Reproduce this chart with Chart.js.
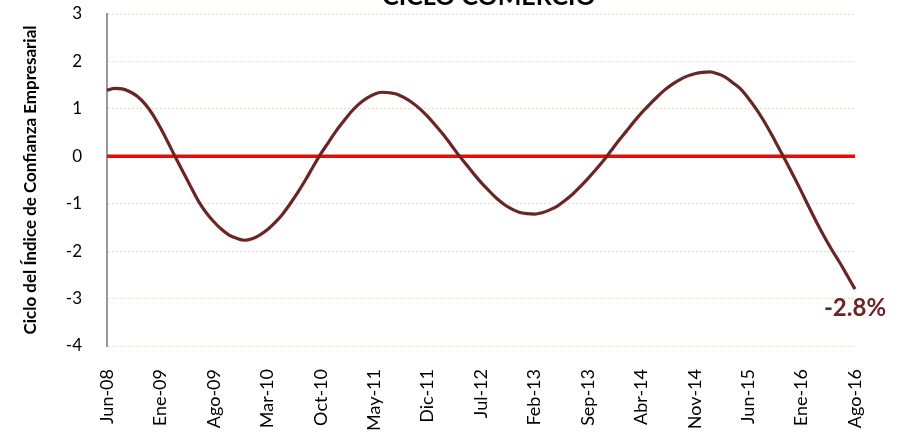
<!DOCTYPE html>
<html lang="es">
<head>
    <meta charset="UTF-8">
    <title>Ciclo Comercio</title>
    <script src="https://cdn.jsdelivr.net/npm/chart.js"></script>
    <style>
        html, body { margin: 0; padding: 0; background: #fff; }
        #wrap { width: 902px; height: 439px; }
    </style>
</head>
<body>
    <div id="wrap"><canvas id="cicloChart" width="902" height="439"></canvas></div>

    <script>
        // Meses Jun-08 .. Ago-16
        const meses = ['Ene', 'Feb', 'Mar', 'Abr', 'May', 'Jun', 'Jul', 'Ago', 'Sep', 'Oct', 'Nov', 'Dic'];
        const categorias = [];
        for (let a = 2008, m = 5; a < 2016 || (a === 2016 && m <= 7); m++) {
            if (m === 12) { m = 0; a++; }
            categorias.push(meses[m] + '-' + String(a).slice(2));
        }

        // Ciclo del índice de confianza empresarial (comercio)
        const ciclo = [
            1.39, 1.43, 1.42, 1.36, 1.26, 1.10, 0.88, 0.60, 0.29, -0.03,
            -0.34, -0.65, -0.95, -1.19, -1.38, -1.54, -1.66, -1.73, -1.77, -1.74,
            -1.66, -1.55, -1.40, -1.22, -1.00, -0.76, -0.50, -0.22, 0.05, 0.29,
            0.53, 0.74, 0.94, 1.10, 1.22, 1.31, 1.35, 1.34, 1.31, 1.23,
            1.13, 1.00, 0.84, 0.66, 0.47, 0.26, 0.04, -0.16, -0.36, -0.55,
            -0.72, -0.88, -1.01, -1.11, -1.18, -1.21, -1.22, -1.19, -1.13, -1.05,
            -0.93, -0.80, -0.64, -0.47, -0.29, -0.10, 0.11, 0.32, 0.52, 0.72,
            0.91, 1.08, 1.24, 1.39, 1.51, 1.61, 1.69, 1.74, 1.77, 1.78,
            1.74, 1.67, 1.55, 1.42, 1.23, 1.01, 0.76, 0.48, 0.18, -0.12,
            -0.43, -0.75, -1.08, -1.40, -1.70, -1.98, -2.24, -2.52, -2.80
        ];
        const lineaCero = categorias.map(() => 0);

        const ultimoValor = ciclo[ciclo.length - 1];

        const tituloPlugin = {
            id: 'tituloCortado',
            afterDraw(chart) {
                const ctx = chart.ctx;
                ctx.save();
                ctx.font = 'bold 25px Lato';
                ctx.fillStyle = '#000';
                ctx.textAlign = 'center';
                ctx.textBaseline = 'bottom';
                ctx.fillText('CICLO COMERCIO', 489, 9);
                ctx.restore();
            }
        };

        const etiquetaFinal = {
            id: 'etiquetaFinal',
            afterDatasetsDraw(chart) {
                const meta = chart.getDatasetMeta(1);
                const p = meta.data[meta.data.length - 1];
                const ctx = chart.ctx;
                ctx.save();
                ctx.font = 'bold 24px Lato';
                ctx.fillStyle = '#6b2525';
                ctx.textAlign = 'center';
                ctx.textBaseline = 'top';
                ctx.fillText(ultimoValor.toFixed(1) + '%', p.x, p.y + 7);
                ctx.restore();
            }
        };

        new Chart(document.getElementById('cicloChart'), {
            type: 'line',
            data: {
                labels: categorias,
                datasets: [{
                    data: lineaCero,
                    borderColor: '#ff0000',
                    borderWidth: 3.5,
                    pointRadius: 0,
                    order: 2
                }, {
                    data: ciclo,
                    borderColor: '#6b2525',
                    borderWidth: 3.2,
                    pointRadius: 0,
                    cubicInterpolationMode: 'monotone',
                    order: 1
                }]
            },
            options: {
                responsive: false,
                animation: false,
                layout: { padding: { top: 14, right: 47, left: 0, bottom: 0 } },
                plugins: {
                    legend: { display: false },
                    tooltip: { enabled: false }
                },
                scales: {
                    x: {
                        grid: { display: false, drawTicks: false },
                        border: { display: false },
                        ticks: {
                            autoSkip: false,
                            maxRotation: 90,
                            minRotation: 90,
                            padding: 23,
                            color: '#000',
                            font: { family: 'Lato', size: 18 },
                            callback: (v, i) => (i % 7 === 0 ? categorias[i] : null)
                        },
                        afterFit: (s) => { s.height = 93; }
                    },
                    y: {
                        min: -4,
                        max: 3,
                        ticks: {
                            stepSize: 1,
                            padding: 25,
                            color: '#000',
                            font: { family: 'Lato', size: 17 }
                        },
                        grid: {
                            color: '#e4e0c8',
                            lineWidth: 1,
                            drawTicks: false
                        },
                        border: {
                            display: true,
                            color: '#999',
                            width: 2,
                            dash: [2, 2]
                        },
                        title: {
                            display: true,
                            text: 'Ciclo del Índice de Confianza Empresarial',
                            color: '#000',
                            font: { family: 'Lato', size: 17, weight: 'bold' },
                            padding: { top: 20, bottom: 4 }
                        },
                        afterFit: (s) => {
                            s.width = 107;
                            s.paddingTop = 0;
                            s.paddingBottom = 0;
                        }
                    }
                }
            },
            plugins: [tituloPlugin, etiquetaFinal]
        });
    </script>
</body>
</html>
